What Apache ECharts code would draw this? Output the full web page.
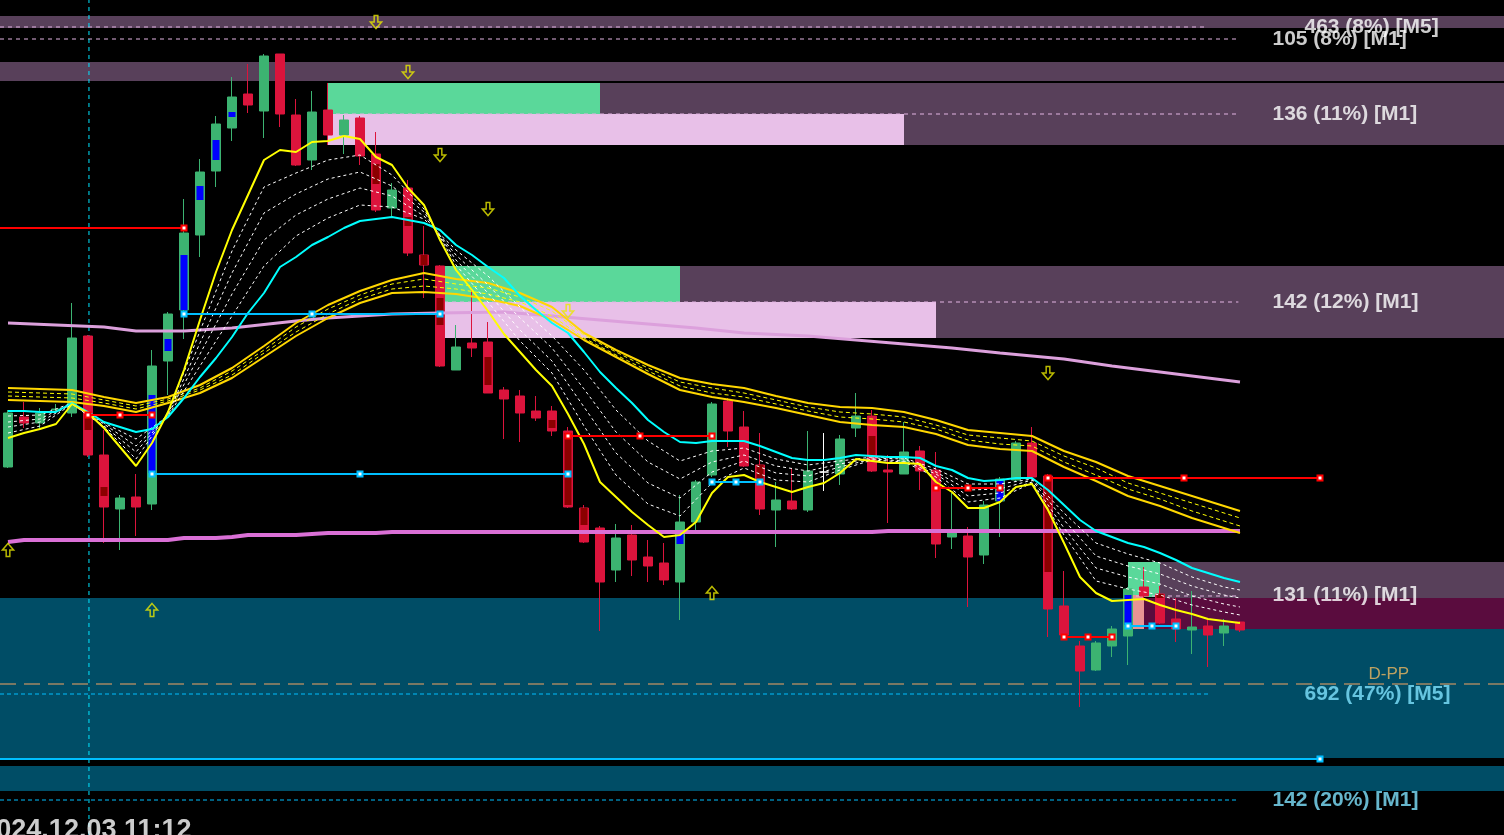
<!DOCTYPE html>
<html><head><meta charset="utf-8">
<script src="https://cdn.jsdelivr.net/npm/echarts@6/dist/echarts.min.js"></script>
<style>html,body{margin:0;padding:0;background:#000;overflow:hidden}#c{width:1504px;height:835px}</style>
</head><body><div id="c"></div>
<script>
// ---- candles: [open, close, low, high] (price points), one per bar ----
const candles = [
 [368,422,367,425],[418,412,407,433],[412,422,405,427],[425,426,422,431],[422,497,418,532],
 [499,380,378,500],[380,328,292,405],[326,337,285,340],[338,328,299,361],[331,469,325,485],
 [474,521,440,523],[525,602,496,636],[600,663,578,676],[664,711,648,719],[707,738,694,758],
 [741,730,722,771],[724,779,697,781],[781,721,708,781],[720,670,669,736],[675,723,665,744],
 [725,700,690,752],[700,715,681,720],[717,679,670,719],[681,625,623,703],[627,645,618,652],
 [647,582,579,655],[580,570,537,609],[569,469,468,570],[465,488,465,510],[492,487,478,547],
 [493,442,442,513],[445,436,396,448],[439,422,393,445],[424,417,414,439],[424,404,399,429],
 [404,328,327,408],[327,293,292,330],[307,253,204,309],[265,297,253,311],[300,275,259,310],
 [278,269,253,295],[272,255,250,292],[253,313,215,340],[313,353,303,355],[360,431,358,433],
 [434,404,388,437],[408,369,368,424],[370,326,320,402],[325,335,288,353],[334,326,325,367],
 [325,364,323,404],[363,363,344,402],[361,396,350,400],[407,419,398,442],[419,364,363,425],
 [365,363,312,380],[361,383,361,413],[384,364,345,389],[365,291,277,383],[298,302,286,342],
 [299,278,228,308],[280,330,271,334],[334,356,298,358],[355,392,353,394],[392,358,357,408],
 [359,226,198,361],[229,200,199,264],[189,164,128,194],[165,192,164,194],[189,206,178,209],
 [199,246,170,248],[248,239,237,268],[241,212,211,249],[216,206,193,237],[205,208,181,244],
 [209,200,168,215],[202,209,189,216],[213,205,203,214]
];
const whiteDojiBars = [51];
// higher-timeframe inner bodies: [bar, open, close]
const innerBodies = [[5,421,405],[6,348,339],[9,362,440],[10,484,496],[11,525,580],[12,635,649],[13,675,695],[14,718,723],[23,671,651],[25,618,609],[26,580,570],[27,537,510],[30,478,450],[34,415,407],[35,402,330],[36,327,310],[42,291,305],[47,370,355],[54,399,380],[62,334,354],[65,359,263],[70,210,240],[72,241,237]];

// ---- moving averages, one value per bar ----
const fastMA = [397,402,406,411,431,422,407,388,369,392,423,465,515,563,605,640,675,685,683,693,694,699,696,678,670,647,630,595,565,545,524,501,483,465,449,421,391,353,338,323,310,298,300,313,342,358,360,353,348,343,348,352,362,376,374,372,372,371,353,343,327,327,333,348,351,325,292,258,242,234,235,236,230,225,221,216,214,212];
const cyanMA = [424,424,423,423,432,423,413,408,403,406,418,437,458,477,498,522,542,568,578,590,598,607,614,616,618,615,612,605,590,580,568,557,539,525,512,502,483,463,447,432,415,403,393,392,394,394,394,389,383,377,375,375,377,380,379,378,378,377,369,365,357,354,355,357,357,345,330,315,304,298,292,288,282,275,267,262,257,253];
// ---- sampled MAs (values at sampleBars) ----
const sampleBars = [0,2,4,6,8,10,12,14,16,18,20,22,24,26,28,30,32,34,36,38,40,42,44,46,48,50,52,54,56,58,60,62,64,66,68,70,72,74,76,77];
const whiteMA1 = [402,409,431,408,376,422,504,584,648,662,675,680,660,626,570,533,494,462,409,360,331,319,352,367,355,353,365,375,373,358,333,337,352,300,254,246,240,230,223,220];
const whiteMA2 = [408,413,431,409,383,421,492,562,622,641,656,663,649,623,575,542,505,474,428,382,352,337,363,374,362,359,368,376,374,361,339,342,353,307,267,258,251,239,231,228];
const whiteMA3 = [413,416,432,411,389,420,481,541,595,620,636,647,639,619,580,550,517,487,446,403,373,356,373,380,369,364,371,377,376,363,345,346,355,315,279,269,261,249,240,237];
const whiteMA4 = [419,420,432,412,396,419,469,519,569,599,617,630,628,616,585,559,528,499,465,425,394,374,384,387,376,370,374,378,377,366,351,351,356,322,292,281,272,258,248,245];
const goldUpper = [447,446,445,438,432,438,450,467,489,512,530,544,555,562,556,552,542,528,502,485,470,457,451,447,439,432,428,427,423,415,405,402,399,384,373,359,349,339,329,324];
const goldMid1  = [443,442,441,435,429,436,447,464,485,508,526,540,551,556,551,547,538,524,500,483,467,453,447,442,435,428,423,421,418,410,400,397,394,379,367,352,342,332,322,317];
const goldMid2  = [439,438,437,432,426,434,445,460,482,503,521,536,546,549,546,541,533,519,497,480,464,449,442,438,431,424,418,416,413,406,395,391,389,373,360,346,336,324,314,309];
const goldLower = [435,434,433,429,423,432,442,457,478,499,517,532,542,543,541,536,529,515,495,478,461,445,438,433,427,420,413,410,408,401,390,386,384,368,354,339,329,317,307,302];
// slow MAs: [bar, value]
const plumMA = [[0,512],[3,510],[6,508],[8,504],[11,504],[14,507],[18,514],[20,517],[24,521],[27,522],[31,523],[34,519],[37,515],[40,511],[43,507],[46,502],[50,499],[53,495],[56,491],[59,487],[62,482],[66,476],[69,469],[73,461],[77,453]];
const orchidMA = [[0,293],[1,295],[10,295],[11,297],[13,297],[14,298],[15,300],[18,300],[19,301],[20,302],[23,302],[24,303],[54,303],[55,304],[77,304]];

// ---- zones: [fromBar, toBar, top, bottom] ----
const tealZones = [[-0.5,93.5,237,77],[-0.5,93.5,69,44]];
const purpleZones = [[-0.5,93.5,819,807],[-0.5,93.5,773,754],[20,93.5,752,690],[26.75,93.5,569,497],[72,93.5,273,237]];
const maroonZones = [[71,93.5,237,206]];
const greenZones = [[20,37,752,721],[26.75,42,569,533],[70,72,273,238]];
const pinkZones = [[20,56,721,690],[26.75,58,533,497]];
const salmonZones = [[70.3,71,240,206]];

// ---- level lines: [price, fromBar, toBar] ----
const pinkDashLevels = [[808,-0.5,75],[796,-0.5,76.9],[721,20,76.9],[533,26.75,76.9],[239,70,77]];
const cyanDashLevels = [[141,-0.5,75],[35,-0.5,76.9]];
const pivotLevels = [[151,-0.5,93.5]];
// segments with anchors: [price, fromBar, midBar, toBar]
const redSegments = [[607,-0.5,null,11],[420,5,7,9],[399,35,39.5,44],[347,58,60,62],[357,65,73.5,82],[198,66,67.5,69]];
const blueSegments = [[521,11,19,27],[361,9,22,35],[353,44,45.5,47],[209,70,71.5,73],[76,-0.5,null,82]];
const crosshairBar = 5.06;

// ---- arrows [bar, price] ----
const downArrows = [[23,813],[25,763],[27,680],[30,626],[35,524],[65,462]];
const upArrows = [[0,285],[9,225],[44,242]];

// ---- texts [text, bar, price] ----
const whiteLabels = [['463 (8%) [M5]',81,808],['105 (8%) [M1]',79,796],['136 (11%) [M1]',79,721],['142 (12%) [M1]',79,533],['131 (11%) [M1]',79,240]];
const cyanLabels = [['692 (47%) [M5]',81,141],['142 (20%) [M1]',79,35]];
const pivotLabels = [['D-PP',85,161]];
const timeLabels = [['2024.12.03 11:12',4.9,4]];

// ================= build =================
const series = [];
function zoneSeries(zones, color){
  series.push({type:'custom', silent:true, z:1, data:zones, encode:{x:[0,1],y:[2,3]},
    renderItem:function(params, api){
      const p1 = api.coord([api.value(0), api.value(2)]);
      const p2 = api.coord([api.value(1), api.value(3)]);
      return {type:'rect', shape:{x:p1[0], y:p1[1], width:p2[0]-p1[0], height:p2[1]-p1[1]}, style:{fill:color}};
    }});
}
zoneSeries(tealZones,'#004d66');
zoneSeries(purpleZones,'#58405a');
zoneSeries(maroonZones,'#5a0c3e');
zoneSeries(greenZones,'#5ad89a');
zoneSeries(pinkZones,'#e8c0e8');
zoneSeries(salmonZones,'#e89494');

function levelSeries(levels, color, type, width){
  levels.forEach(function(l){
    series.push({type:'line', silent:true, z:2, symbol:'none', data:[[l[1],l[0]],[l[2],l[0]]],
      lineStyle:{color:color, type:type, width:width}});
  });
}
levelSeries(pinkDashLevels,'#e2b4e2',[4,4],1);
levelSeries(cyanDashLevels,'#00bfff',[4,3],1);
levelSeries(pivotLevels,'#f4a460',[16,8],1);
series.push({type:'line', silent:true, z:2, symbol:'none', data:[[crosshairBar,0],[crosshairBar,835]], lineStyle:{color:'#00e5ff', type:[4,4], width:1}});

// candles
const candleData = candles.map(function(c,i){
  const item = {value:[i,c[0],c[1],c[2],c[3]]};
  if (whiteDojiBars.indexOf(i) >= 0) item.itemStyle = {color:'#ffffff', color0:'#ffffff', borderColor:'#ffffff', borderColor0:'#ffffff'};
  return item;
});
series.push({type:'candlestick', z:3, silent:true, barWidth:10, data:candleData,
  itemStyle:{color:'#3cb371', color0:'#dc143c', borderColor:'#3cb371', borderColor0:'#dc143c', borderWidth:1}});
series.push({type:'candlestick', z:4, silent:true, barWidth:7,
  data:innerBodies.map(function(b){return [b[0], b[1], b[2], Math.min(b[1],b[2]), Math.max(b[1],b[2])];}),
  itemStyle:{color:'#0000ff', color0:'#8b0000', borderColor:'#0000ff', borderColor0:'#8b0000', borderWidth:0}});

function maSeries(data, color, width, type){
  series.push({type:'line', silent:true, z:5, symbol:'none', data:data, lineStyle:{color:color, width:width, type:type}});
}
function sampled(vals){ return vals.map(function(v,k){ return [sampleBars[k], v]; }); }
function perBar(vals){ return vals.map(function(v,i){ return [i, v]; }); }
maSeries(plumMA,'#dca0dc',3,'solid');
maSeries(orchidMA,'#da70d6',4,'solid');
maSeries(sampled(goldUpper),'#ffd700',2,'solid');
maSeries(sampled(goldLower),'#ffd700',2,'solid');
maSeries(sampled(goldMid1),'#ffff00',1,[4,3]);
maSeries(sampled(goldMid2),'#ffff00',1,[4,3]);
[whiteMA1,whiteMA2,whiteMA3,whiteMA4].forEach(function(w){ maSeries(sampled(w),'#ffffff',1,[3,3]); });
maSeries(perBar(cyanMA),'#00ffff',2,'solid');
maSeries(perBar(fastMA),'#ffff00',2,'solid');

function segSeries(segs, color){
  segs.forEach(function(s){
    const pts = [];
    if (s[2] === null) pts.push({value:[s[1],s[0]], symbol:'none'});
    else { pts.push({value:[s[1],s[0]]}); pts.push({value:[s[2],s[0]]}); }
    pts.push({value:[s[3],s[0]]});
    series.push({type:'line', silent:true, z:6, data:pts, symbol:'rect', symbolSize:5, showSymbol:true,
      lineStyle:{color:color, width:2}, itemStyle:{color:'#ffffff', borderColor:color, borderWidth:2}});
  });
}
segSeries(redSegments,'#ff0000');
segSeries(blueSegments,'#00bfff');

series.push({type:'scatter', silent:true, z:7, data:downArrows, symbol:'path://M4,0 L8,0 L8,7 L12,7 L6,14 L0,7 L4,7 Z', symbolSize:[11,13],
  itemStyle:{color:'rgba(0,0,0,0)', borderColor:'#e8e800', borderWidth:1.6}});
series.push({type:'scatter', silent:true, z:7, data:upArrows, symbol:'path://M6,0 L12,7 L8,7 L8,14 L4,14 L4,7 L0,7 Z', symbolSize:[11,13],
  itemStyle:{color:'rgba(0,0,0,0)', borderColor:'#e8e800', borderWidth:1.6}});

function textSeries(items, color, size, weight, position){
  series.push({type:'scatter', silent:true, z:8, symbolSize:1, itemStyle:{color:'rgba(0,0,0,0)'},
    data:items.map(function(t){ return {name:t[0], value:[t[1],t[2]]}; }),
    label:{show:true, formatter:'{b}', position:position, distance:0, color:color, fontSize:size, fontWeight:weight,
      textBorderWidth:0, fontFamily:'"Liberation Sans", Arial, sans-serif'}});
}
textSeries(whiteLabels,'#ffffff',21,'bold','right');
textSeries(cyanLabels,'#7fe4ff',21,'bold','right');
textSeries(pivotLabels,'#eeb860',17,'normal','right');
textSeries(timeLabels,'#ffffff',27,'bold','inside');

const chart = echarts.init(document.getElementById('c'), null, {renderer:'canvas'});
chart.setOption({
  backgroundColor:'#000000',
  animation:false,
  grid:{left:0,right:0,top:0,bottom:0},
  xAxis:{type:'value', min:-0.5, max:93.5, show:false},
  yAxis:{type:'value', min:0, max:835, show:false},
  series:series
});
</script></body></html>
